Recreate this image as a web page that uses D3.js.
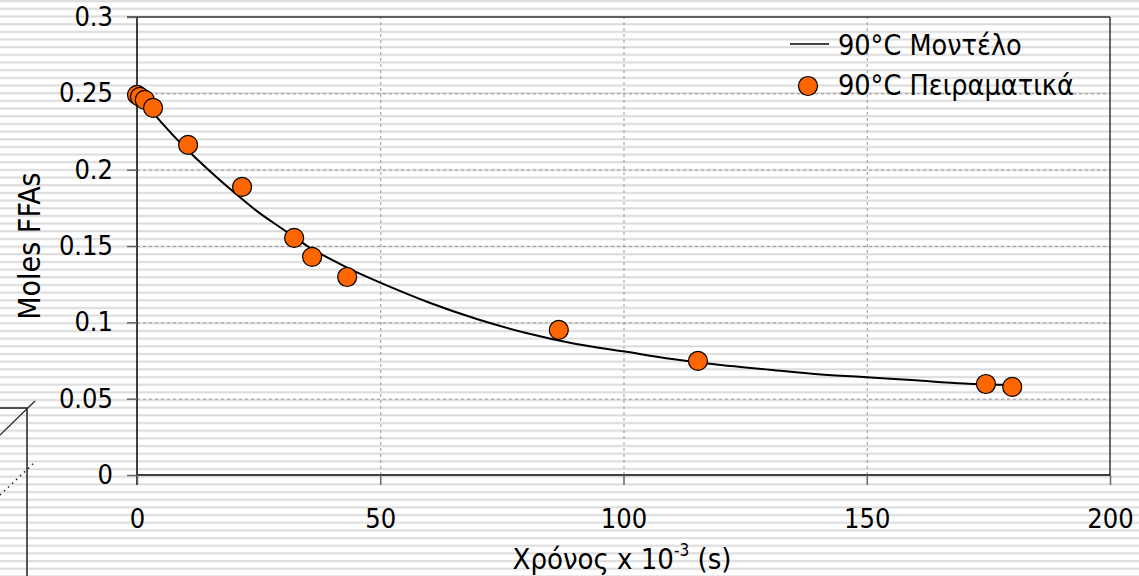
<!DOCTYPE html>
<html>
<head>
<meta charset="utf-8">
<script src="https://cdn.jsdelivr.net/npm/d3@7"></script>
<style>
  body { margin: 0; background: #fff; }
  svg { display: block; font-family: "DejaVu Sans Condensed", "DejaVu Sans", sans-serif; }
</style>
</head>
<body>
<div id="chart"></div>
<script>
// Values
var modelTime = [0, 5, 10, 15, 20, 25, 30, 35, 40, 45, 50, 60, 70, 80, 90, 100, 110, 120, 130, 140, 150, 160, 170, 180];
var modelMoles = [0.250, 0.231, 0.214, 0.199, 0.185, 0.172, 0.161, 0.150, 0.141, 0.133, 0.126, 0.113, 0.102, 0.093, 0.086, 0.081, 0.076, 0.072, 0.069, 0.066, 0.064, 0.062, 0.060, 0.059];

var expTime = [0, 0.6, 1.6, 3.3, 10.5, 21.6, 32.3, 36, 43.2, 86.7, 115.3, 174.5, 179.9];
var expMoles = [0.249, 0.2477, 0.2457, 0.2405, 0.2163, 0.1887, 0.1553, 0.1429, 0.1297, 0.095, 0.0747, 0.0596, 0.0577];

var xTicks = [0, 50, 100, 150, 200];
var yTicks = [0, 0.05, 0.1, 0.15, 0.2, 0.25, 0.3];

var legendLabels = ["90°C Μοντέλο", "90°C Πειραματικά"];

var W = 1139, H = 576;
var margin = { top: 17, right: 29, bottom: 101, left: 137 };
var fontFam = "DejaVu Sans Condensed, DejaVu Sans, sans-serif";
var fs = 27;

var svg = d3.select("#chart").append("svg")
    .attr("width", W)
    .attr("height", H);

// Striped background
var defs = svg.append("defs");
var pat = defs.append("pattern")
    .attr("id", "stripes")
    .attr("patternUnits", "userSpaceOnUse")
    .attr("width", 20)
    .attr("height", 7.67)
    .attr("y", 0);
pat.append("rect")
    .attr("x", 0).attr("y", 0)
    .attr("width", 20).attr("height", 7.67)
    .attr("fill", "#fff");
pat.append("rect")
    .attr("x", 0).attr("y", 0.2)
    .attr("width", 20).attr("height", 2)
    .attr("fill", "#dadada");
svg.append("rect")
    .attr("width", W).attr("height", H)
    .attr("fill", "url(#stripes)");

// Scales
var x = d3.scaleLinear().domain([0, 200]).range([margin.left, W - margin.right]);
var y = d3.scaleLinear().domain([0, 0.3]).range([H - margin.bottom, margin.top]);

// Gridlines
svg.append("g")
    .attr("class", "grid")
    .attr("transform", "translate(" + margin.left + ",0)")
    .call(d3.axisLeft(y).tickValues(yTicks.slice(1, -1)).tickSize(-(x(200) - x(0))).tickFormat(""))
    .call(function (g) {
        g.select(".domain").remove();
        g.selectAll("line").attr("stroke", "#999").attr("stroke-dasharray", "3,3");
    });

svg.append("g")
    .attr("class", "grid")
    .attr("transform", "translate(0," + y(0) + ")")
    .call(d3.axisBottom(x).tickValues(xTicks.slice(1, -1)).tickSize(-(y(0) - y(0.3))).tickFormat(""))
    .call(function (g) {
        g.select(".domain").remove();
        g.selectAll("line").attr("stroke", "#999").attr("stroke-dasharray", "3,3");
    });

// Plot border (top and right)
svg.append("line")
    .attr("x1", x(0) - 10).attr("x2", x(200))
    .attr("y1", y(0.3)).attr("y2", y(0.3))
    .attr("stroke", "#333").attr("stroke-width", 1.5);
svg.append("line")
    .attr("x1", x(200)).attr("x2", x(200))
    .attr("y1", y(0.3)).attr("y2", y(0))
    .attr("stroke", "#333").attr("stroke-width", 1.5);

// Axes
var yAxis = svg.append("g")
    .attr("transform", "translate(" + margin.left + ",0)")
    .call(d3.axisLeft(y).tickValues(yTicks).tickSize(10).tickPadding(14)
        .tickFormat(function (d) { return d3.format("~g")(d); }));
yAxis.select(".domain").attr("stroke", "#000").attr("stroke-width", 1.5).attr("d", "M0," + y(0.3) + "V" + (y(0) + 10));
yAxis.selectAll(".tick line").attr("stroke", "#666").attr("stroke-width", 1.5);
yAxis.selectAll(".tick text").attr("font-size", fs).attr("fill", "#000")
    .attr("font-family", fontFam);

var xAxis = svg.append("g")
    .attr("transform", "translate(0," + y(0) + ")")
    .call(d3.axisBottom(x).tickValues(xTicks).tickSize(10).tickPadding(24));
xAxis.select(".domain").attr("stroke", "#000").attr("stroke-width", 1.5).attr("d", "M" + x(0) + ",0H" + x(200));
xAxis.selectAll(".tick line").attr("stroke", "#666").attr("stroke-width", 1.5);
xAxis.selectAll(".tick text").attr("font-size", fs).attr("fill", "#000")
    .attr("font-family", fontFam);

// Axis titles
var xTitle = svg.append("text")
    .attr("x", 622)
    .attr("y", 569)
    .attr("text-anchor", "middle")
    .attr("font-size", 29);
xTitle.append("tspan").text("Χρόνος x 10");
xTitle.append("tspan").attr("font-size", 17).attr("dy", -13).text("-3");
xTitle.append("tspan").attr("dy", 13).text(" (s)");

svg.append("text")
    .attr("transform", "translate(40,246) rotate(-90)")
    .attr("text-anchor", "middle")
    .attr("font-size", 30)
    .text("Moles FFAs");

// Model line
var modelData = modelTime.map(function (t, i) { return { t: t, m: modelMoles[i] }; });
svg.append("path")
    .datum(modelData)
    .attr("fill", "none")
    .attr("stroke", "#000")
    .attr("stroke-width", 2)
    .attr("d", d3.line().curve(d3.curveMonotoneX)
        .x(function (d) { return x(d.t); })
        .y(function (d) { return y(d.m); }));

// Experimental points
var expData = expTime.map(function (t, i) { return { t: t, m: expMoles[i] }; });
svg.selectAll(".pt")
    .data(expData)
    .enter().append("circle")
    .attr("class", "pt")
    .attr("cx", function (d) { return x(d.t); })
    .attr("cy", function (d) { return y(d.m); })
    .attr("r", 9.5)
    .attr("fill", "#ff6600")
    .attr("stroke", "#000")
    .attr("stroke-width", 1.2);

// Legend
var legend = svg.append("g");
legend.append("line")
    .attr("x1", 790).attr("x2", 829)
    .attr("y1", 44).attr("y2", 44)
    .attr("stroke", "#000").attr("stroke-width", 1.5);
legend.append("circle")
    .attr("cx", 808).attr("cy", 86).attr("r", 9.5)
    .attr("fill", "#ff6600").attr("stroke", "#000").attr("stroke-width", 1.2);
legend.selectAll(".lg")
    .data(legendLabels)
    .enter().append("text")
    .attr("class", "lg")
    .attr("x", 838)
    .attr("y", function (d, i) { return 55 + i * 40; })
    .attr("font-size", 28.5)
    .text(function (d) { return d; });

// Decorative fragment at lower left
var deco = svg.append("g").attr("stroke", "#222").attr("fill", "none");
deco.append("path").attr("d", "M0,408H27V576").attr("stroke-width", 1.5);
deco.append("line").attr("x1", 0).attr("y1", 435).attr("x2", 35).attr("y2", 401).attr("stroke-width", 1.2);
deco.append("line").attr("x1", 0).attr("y1", 495).attr("x2", 35).attr("y2", 462)
    .attr("stroke-width", 1.5).attr("stroke-dasharray", "1.5,4");
</script>
</body>
</html>
